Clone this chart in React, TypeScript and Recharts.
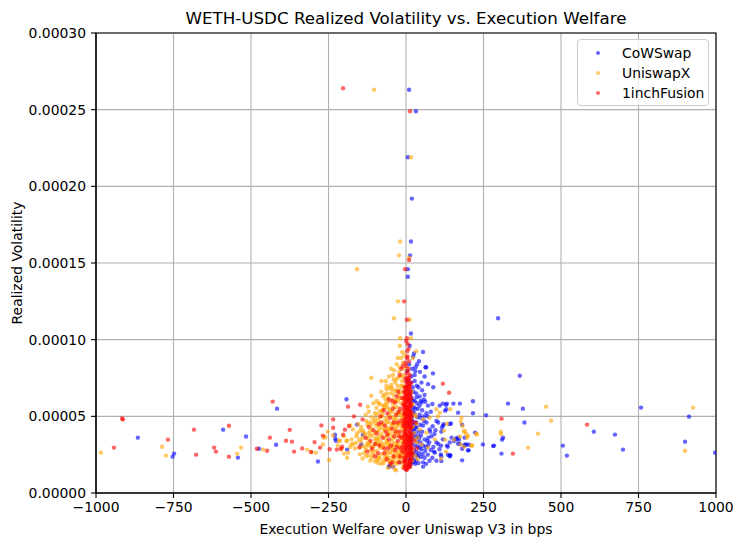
import React from 'react';
import { ScatterChart, Scatter, XAxis, YAxis, CartesianGrid, ReferenceArea } from 'recharts';

const xTicks = [-1000, -750, -500, -250, 0, 250, 500, 750, 1000];
const yTicks = [0, 0.00005, 0.0001, 0.00015, 0.0002, 0.00025, 0.0003];
const seriesNames = ['CoWSwap', 'UniswapX', '1inchFusion'];
const seriesColors = ['#0000ff', '#ffa500', '#ff0000'];

// [welfare in bps, realized volatility]
const cowswapPoints: [number, number][] = [
  [10, 26.3e-5], [32, 24.9e-5], [6, 21.9e-5], [19, 19.2e-5], [16, 16.4e-5], [13, 15.5e-5], [6, 14.6e-5], [6, 14.1e-5],
  [16, 10.4e-5], [12, 9.6e-5], [23, 8.9e-5], [55, 9.2e-5], [63, 8.2e-5], [31, 8.2e-5], [10, 8.4e-5], [3, 7.95e-5],
  [17, 7.6e-5], [6, 7.3e-5], [36, 8.4e-5], [65, 8.2e-5], [87, 7.8e-5], [88, 6.9e-5], [71, 7.1e-5], [50, 7.2e-5],
  [33, 6.5e-5], [44, 6.3e-5], [60, 6.4e-5], [28, 6.0e-5], [50, 5.9e-5], [71, 5.7e-5], [109, 5.7e-5], [130, 5.46e-5],
  [22, 5.35e-5], [44, 5.1e-5], [66, 5.2e-5], [98, 4.7e-5], [119, 4.4e-5], [141, 4.5e-5], [114, 4.0e-5], [33, 4.6e-5],
  [55, 4.4e-5], [76, 4.15e-5], [22, 4.15e-5], [38, 3.7e-5], [60, 3.5e-5], [82, 3.7e-5], [98, 3.3e-5], [119, 3.5e-5],
  [141, 3.3e-5], [163, 3.5e-5], [173, 3.2e-5], [189, 3.1e-5], [28, 3.1e-5], [50, 2.85e-5], [71, 3.1e-5], [93, 2.63e-5],
  [114, 2.4e-5], [135, 2.5e-5], [108, 2.85e-5], [17, 2.63e-5], [38, 2.4e-5], [60, 2.3e-5], [76, 2.1e-5], [55, 2.0e-5],
  [33, 2.1e-5], [17, 2.0e-5], [-53, 1.76e-5], [-20, 2.0e-5], [12, 1.76e-5], [141, 2.4e-5], [98, 2.1e-5], [55, 1.72e-5],
  [14, 3.0e-5], [20, 3.9e-5], [12, 4.8e-5], [25, 5.6e-5], [15, 6.6e-5], [20, 2.3e-5], [26, 2.8e-5], [13, 3.4e-5],
  [24, 4.4e-5], [18, 5.0e-5], [14, 5.9e-5], [22, 6.9e-5], [28, 7.7e-5], [30, 1.9e-5], [42, 2.6e-5], [47, 3.3e-5],
  [40, 4.0e-5], [46, 4.9e-5], [38, 5.5e-5], [35, 7.0e-5],
  [15, 1.9e-5], [25, 2.15e-5], [40, 1.95e-5], [48, 2.35e-5], [65, 1.9e-5], [70, 2.5e-5], [85, 2.3e-5], [20, 2.5e-5],
  [32, 2.7e-5], [44, 2.95e-5], [62, 2.75e-5], [80, 2.8e-5], [18, 3.2e-5], [36, 3.35e-5], [55, 3.1e-5], [68, 3.4e-5],
  [88, 3.0e-5], [104, 3.2e-5], [16, 3.7e-5], [28, 3.85e-5], [48, 3.75e-5], [72, 3.6e-5], [92, 3.85e-5], [14, 4.3e-5],
  [30, 4.25e-5], [46, 4.45e-5], [66, 4.6e-5], [86, 4.35e-5], [104, 4.6e-5], [20, 4.75e-5], [36, 4.95e-5], [58, 5.0e-5],
  [80, 5.3e-5], [16, 5.25e-5], [30, 5.5e-5], [44, 5.7e-5], [62, 5.95e-5], [18, 6.2e-5], [34, 6.25e-5], [52, 6.7e-5],
  [24, 6.6e-5], [40, 6.9e-5], [16, 7.2e-5], [28, 7.3e-5], [60, 7.6e-5], [45, 7.9e-5], [20, 8.1e-5],
  [11, 2.2e-5], [13, 2.8e-5], [12, 3.6e-5], [11, 4.5e-5], [13, 5.5e-5], [12, 6.4e-5], [24, 2.0e-5], [22, 3.5e-5],
  [26, 4.1e-5], [21, 4.6e-5], [27, 5.2e-5], [23, 6.0e-5], [30, 3.6e-5], [34, 4.3e-5], [33, 2.45e-5], [38, 3.05e-5],
  [42, 3.55e-5], [36, 5.85e-5], [52, 4.0e-5], [54, 2.55e-5], [58, 4.7e-5], [64, 3.0e-5], [75, 3.3e-5], [78, 4.0e-5],
  [95, 4.1e-5], [90, 2.7e-5], [52, 5.4e-5], [70, 5.0e-5], [85, 5.8e-5], [58, 6.1e-5], [48, 6.0e-5], [30, 7.95e-5],
  [42, 8.6e-5], [26, 9.1e-5],
  [297, 11.4e-5], [367, 7.65e-5], [329, 5.83e-5], [377, 5.5e-5], [382, 4.6e-5], [308, 2.57e-5], [281, 3.06e-5],
  [258, 5.07e-5], [216, 5.98e-5], [216, 5.2e-5], [248, 3.17e-5], [202, 2.78e-5], [181, 2.13e-5], [174, 5.83e-5],
  [153, 5.83e-5], [132, 5.83e-5], [119, 5.83e-5], [168, 5.24e-5], [145, 4.54e-5], [122, 4.48e-5], [147, 3.61e-5],
  [168, 3.61e-5], [189, 3.61e-5], [155, 3.39e-5], [195, 3.17e-5], [112, 2.52e-5], [143, 2.46e-5], [114, 2.09e-5],
  [313, 3.61e-5], [310, 3.48e-5], [284, 3.09e-5], [506, 3.09e-5], [519, 2.44e-5], [129, 5.76e-5], [126, 5.37e-5],
  [181, 4.46e-5], [116, 4.26e-5], [223, 3.94e-5], [161, 3.55e-5], [171, 3.48e-5], [168, 3.22e-5], [132, 3.09e-5],
  [135, 3.02e-5], [113, 3.09e-5], [190, 3.15e-5], [203, 3.15e-5], [181, 2.89e-5], [200, 2.78e-5], [142, 2.44e-5],
  [606, 4.0e-5], [674, 3.81e-5], [700, 2.83e-5], [758, 5.57e-5], [913, 4.98e-5], [900, 3.35e-5], [997, 2.63e-5],
  [-865, 3.61e-5], [-753, 2.37e-5], [-748, 2.57e-5], [-590, 4.13e-5], [-542, 2.31e-5], [-516, 3.68e-5], [-474, 2.89e-5],
  [-419, 3.15e-5], [-416, 5.5e-5], [-284, 2.05e-5], [-228, 3.55e-5], [-192, 6.11e-5], [-158, 4.46e-5], [-229, 3.8e-5],
  [-226, 3.41e-5], [-190, 2.83e-5], [-55, 1.72e-5], [-139, 3.8e-5], [-144, 3.17e-5], [-42, 1.72e-5],
];

const uniswapxPoints: [number, number][] = [
  [-103, 26.3e-5], [16, 21.9e-5], [-19, 16.4e-5], [-23, 15.5e-5], [10, 15.35e-5], [-158, 14.6e-5], [-26, 12.5e-5],
  [-39, 11.4e-5], [12, 11.3e-5], [-19, 10.1e-5], [16, 10.1e-5],
  [-20, 9.6e-5], [-12, 9.2e-5], [-26, 8.8e-5], [-10, 8.5e-5], [-20, 8.2e-5], [33, 9.25e-5], [22, 8.8e-5],
  [-112, 7.52e-5], [-79, 7.3e-5], [-42, 7.7e-5], [-31, 7.4e-5], [-15, 7.6e-5], [-4, 8.1e-5], [-63, 7.0e-5],
  [-47, 6.9e-5], [-36, 6.65e-5], [-20, 6.75e-5], [-10, 7.0e-5], [-112, 6.35e-5], [-63, 6.78e-5],
  [-74, 6.3e-5], [-58, 6.2e-5], [-42, 6.1e-5], [-26, 6.0e-5], [-10, 6.2e-5], [-123, 5.63e-5], [-85, 5.8e-5],
  [-69, 5.7e-5], [-53, 5.46e-5], [-36, 5.57e-5], [-20, 5.35e-5], [-6, 5.7e-5], [-95, 5.13e-5], [-79, 5.0e-5],
  [-63, 4.9e-5], [-47, 5.0e-5], [-31, 4.8e-5], [-15, 4.9e-5], [-4, 4.7e-5], [-128, 4.7e-5], [-112, 4.48e-5],
  [-95, 4.37e-5], [-79, 4.48e-5], [-63, 4.26e-5], [-47, 4.37e-5], [-31, 4.15e-5], [-15, 4.26e-5], [-171, 4.15e-5],
  [-149, 4.04e-5], [-133, 3.83e-5], [-117, 3.72e-5], [-101, 3.94e-5], [-85, 3.72e-5], [-69, 3.61e-5], [-53, 3.83e-5],
  [-36, 3.61e-5], [-20, 3.72e-5], [-4, 3.5e-5], [-192, 3.39e-5], [-176, 3.17e-5], [-160, 3.28e-5], [-139, 3.06e-5],
  [-123, 3.17e-5], [-107, 2.96e-5], [-91, 3.17e-5], [-74, 2.96e-5], [-58, 3.06e-5], [-42, 2.85e-5], [-26, 3.06e-5],
  [-10, 2.85e-5], [-208, 2.85e-5], [-187, 2.63e-5], [-149, 2.52e-5], [-128, 2.41e-5], [-107, 2.52e-5], [-85, 2.3e-5],
  [-63, 2.41e-5], [-42, 2.2e-5], [-20, 2.3e-5], [-4, 2.1e-5], [-74, 2.1e-5], [-53, 1.98e-5], [-31, 1.87e-5],
  [-15, 1.98e-5], [-36, 1.54e-5], [-32, 1.48e-5],
  [17, 5.24e-5], [33, 5.0e-5], [55, 4.8e-5], [76, 4.9e-5], [98, 5.46e-5], [109, 5.24e-5], [44, 4.15e-5], [66, 3.94e-5],
  [28, 3.5e-5], [50, 3.17e-5], [71, 2.96e-5], [93, 3.5e-5], [17, 2.4e-5], [38, 2.2e-5], [103, 5.0e-5],
  [-55, 4.6e-5], [-40, 4.55e-5], [-25, 4.5e-5], [-70, 4.1e-5], [-88, 4.1e-5], [-45, 3.4e-5], [-60, 3.3e-5],
  [-30, 3.3e-5], [-15, 3.2e-5], [-80, 3.3e-5], [-100, 3.5e-5], [-115, 3.3e-5], [-50, 2.6e-5], [-35, 2.6e-5],
  [-65, 2.7e-5], [-95, 2.75e-5], [-25, 2.5e-5], [-12, 2.45e-5], [-55, 2.3e-5], [-115, 2.1e-5], [-140, 2.25e-5],
  [-90, 1.95e-5], [-30, 5.2e-5], [-45, 5.3e-5], [-60, 5.6e-5], [-12, 5.1e-5], [-25, 6.4e-5], [-50, 6.5e-5],
  [-35, 7.2e-5], [-8, 6.6e-5], [-55, 4.0e-5], [-40, 3.95e-5], [-25, 3.95e-5], [-10, 4.0e-5], [-120, 3.9e-5],
  [-160, 3.7e-5], [-150, 3.5e-5], [-180, 3.0e-5], [-165, 2.9e-5], [-130, 2.8e-5], [-85, 5.3e-5], [-100, 4.85e-5],
  [-100, 2.05e-5], [-80, 1.9e-5], [-65, 2.15e-5], [-45, 1.75e-5], [-28, 2.05e-5], [-10, 1.7e-5], [5, 1.9e-5],
  [20, 2.1e-5], [-58, 1.65e-5], [-18, 2.25e-5], [-88, 2.2e-5], [-38, 2.0e-5],
  [-135, 2.6e-5], [-120, 2.45e-5], [-105, 2.7e-5], [-92, 2.4e-5], [-78, 2.55e-5], [-68, 2.35e-5], [-45, 2.75e-5],
  [-40, 2.35e-5], [-28, 2.7e-5], [-18, 2.6e-5], [-6, 2.5e-5], [8, 2.7e-5], [22, 2.8e-5], [30, 2.4e-5], [-58, 2.65e-5],
  [-115, 2.75e-5], [-170, 3.2e-5], [-145, 3.35e-5], [-130, 3.0e-5], [-118, 3.1e-5], [-98, 3.25e-5], [-84, 2.95e-5],
  [-70, 3.2e-5], [-62, 3.4e-5], [-50, 2.95e-5], [-38, 3.2e-5], [-22, 2.95e-5], [-8, 3.1e-5], [5, 3.35e-5],
  [18, 3.0e-5], [35, 3.3e-5], [-92, 3.45e-5], [-150, 2.95e-5],
  [-158, 3.9e-5], [-140, 3.6e-5], [-125, 3.55e-5], [-108, 3.75e-5], [-95, 3.6e-5], [-78, 3.85e-5], [-62, 3.75e-5],
  [-45, 3.65e-5], [-30, 3.85e-5], [-15, 3.55e-5], [-2, 3.8e-5], [12, 3.7e-5], [25, 3.9e-5], [38, 3.6e-5],
  [-135, 3.95e-5], [-88, 3.5e-5], [-145, 4.3e-5], [-125, 4.45e-5], [-110, 4.2e-5], [-98, 4.55e-5], [-85, 4.3e-5],
  [-72, 4.5e-5], [-58, 4.2e-5], [-42, 4.5e-5], [-35, 4.25e-5], [-20, 4.55e-5], [-6, 4.2e-5], [8, 4.45e-5],
  [22, 4.3e-5], [35, 4.5e-5], [-118, 4.6e-5],
  [-112, 4.95e-5], [-90, 4.75e-5], [-75, 5.15e-5], [-68, 4.75e-5], [-55, 5.05e-5], [-40, 4.8e-5], [-25, 5.1e-5],
  [-10, 4.8e-5], [2, 5.15e-5], [15, 4.85e-5], [28, 5.1e-5], [-100, 5.2e-5], [-95, 5.55e-5], [-78, 5.4e-5],
  [-65, 5.8e-5], [-50, 5.35e-5], [-42, 5.75e-5], [-28, 5.6e-5], [-15, 5.85e-5], [-2, 5.4e-5], [10, 5.6e-5],
  [22, 5.8e-5], [-88, 5.85e-5], [-70, 5.5e-5], [-80, 6.6e-5], [-66, 6.1e-5], [-55, 6.85e-5], [-40, 6.4e-5],
  [-32, 6.05e-5], [-18, 6.5e-5], [-5, 6.9e-5], [8, 6.3e-5], [18, 6.6e-5], [-48, 7.05e-5], [-28, 7.0e-5],
  [-12, 7.3e-5], [-70, 6.4e-5], [-55, 7.6e-5], [-38, 8.0e-5], [-22, 7.9e-5], [-8, 7.7e-5], [-30, 8.4e-5],
  [-15, 8.8e-5], [-5, 9.0e-5], [-48, 8.1e-5],
  [-110, 2.3e-5], [-95, 2.15e-5], [-72, 1.95e-5], [-52, 2.1e-5], [-32, 2.35e-5], [-15, 2.7e-5], [-3, 2.3e-5],
  [-125, 3.25e-5], [-105, 3.05e-5], [-88, 3.2e-5], [-75, 3.05e-5], [-55, 3.2e-5], [-42, 3.05e-5], [-28, 3.15e-5],
  [-12, 3.4e-5], [-140, 4.1e-5], [-115, 4.05e-5], [-92, 4.0e-5], [-75, 4.2e-5], [-50, 4.15e-5], [-28, 4.4e-5],
  [-12, 4.5e-5], [-105, 4.7e-5], [-85, 4.95e-5], [-60, 4.65e-5], [-35, 4.95e-5], [-20, 5.2e-5], [-5, 5.05e-5],
  [-75, 5.7e-5], [-58, 5.9e-5], [-35, 5.95e-5], [-22, 6.2e-5], [-8, 6.1e-5], [-62, 6.5e-5], [-45, 6.75e-5],
  [-30, 6.7e-5], [-16, 7.0e-5], [-40, 7.4e-5], [-25, 7.55e-5], [-65, 7.3e-5], [-95, 6.0e-5], [-105, 5.85e-5],
  [-130, 5.1e-5], [-120, 5.3e-5], [-155, 4.5e-5], [-180, 4.4e-5], [-200, 3.7e-5], [-175, 3.5e-5], [-220, 3.1e-5],
  [-190, 2.3e-5],
  [426, 3.87e-5], [394, 2.96e-5], [306, 4.0e-5], [306, 3.85e-5], [226, 3.87e-5], [229, 3.81e-5], [212, 3.1e-5],
  [143, 5.46e-5], [179, 4.91e-5], [182, 4.37e-5], [175, 3.17e-5], [452, 5.63e-5], [468, 4.72e-5], [177, 4.65e-5],
  [132, 4.52e-5], [123, 4.07e-5], [187, 4.0e-5], [194, 3.87e-5], [197, 3.61e-5], [174, 3.68e-5], [155, 3.48e-5],
  [126, 3.48e-5], [129, 2.7e-5], [187, 3.02e-5], [213, 3.09e-5], [113, 2.24e-5], [926, 5.57e-5], [900, 2.76e-5],
  [200, 3.72e-5], [189, 4.04e-5],
  [-984, 2.63e-5], [-787, 3.02e-5], [-774, 2.44e-5], [-545, 2.57e-5], [-532, 2.96e-5], [-461, 2.83e-5],
  [-319, 2.83e-5], [-306, 2.67e-5], [-291, 2.63e-5], [-268, 3.17e-5], [-265, 3.61e-5], [-260, 3.65e-5],
  [-248, 2.15e-5], [-235, 3.76e-5], [-252, 4.0e-5], [-216, 3.41e-5], [-213, 3.41e-5], [-190, 3.41e-5], [-200, 2.57e-5],
];

const fusionPoints: [number, number][] = [
  [-203, 26.4e-5], [13, 24.9e-5], [-3, 14.6e-5], [10, 15.2e-5], [-6, 12.5e-5], [3, 11.3e-5], [3, 10.1e-5],
  [6, 9.7e-5], [4, 9.25e-5], [3, 8.8e-5], [10, 8.6e-5], [1, 8.3e-5], [6, 7.95e-5], [12, 7.7e-5], [3, 7.5e-5],
  [10, 7.3e-5], [17, 7.2e-5], [-15, 8.1e-5], [-10, 8.3e-5], [-20, 7.7e-5],
  [119, 7.13e-5], [139, 6.54e-5], [345, 2.57e-5], [308, 4.85e-5], [584, 4.46e-5],
  [-942, 2.96e-5], [-913, 4.8e-5], [-916, 4.86e-5], [-768, 3.48e-5], [-684, 4.13e-5], [-677, 2.5e-5], [-619, 2.96e-5],
  [-613, 2.7e-5], [-571, 4.39e-5], [-571, 2.37e-5], [-481, 2.89e-5], [-448, 2.76e-5], [-439, 3.61e-5], [-430, 5.96e-5],
  [-387, 3.41e-5], [-375, 4.12e-5], [-368, 3.35e-5], [-361, 2.7e-5], [-335, 2.91e-5], [-306, 2.67e-5], [-295, 3.32e-5],
  [-277, 2.96e-5], [-273, 4.41e-5], [-246, 2.85e-5], [-235, 4.8e-5], [-235, 4.26e-5], [-187, 5.63e-5], [-148, 5.76e-5],
  [-168, 5.0e-5], [-184, 4.37e-5], [-268, 3.74e-5], [-223, 2.83e-5], [-210, 2.89e-5], [-203, 3.8e-5], [-197, 4.13e-5],
  [-206, 3.02e-5],
  [-130, 3.6e-5], [-110, 2.9e-5], [-95, 3.9e-5], [-80, 4.6e-5], [-70, 2.6e-5], [-60, 5.2e-5], [-55, 3.5e-5],
  [-45, 4.2e-5], [-40, 2.4e-5], [-35, 5.9e-5], [-30, 3.0e-5], [-28, 4.6e-5], [-22, 2.0e-5], [-18, 5.5e-5],
  [-15, 3.6e-5], [-12, 2.7e-5], [-10, 4.4e-5], [-25, 6.6e-5], [-45, 6.0e-5], [-65, 4.0e-5], [-85, 3.1e-5],
  [-100, 2.4e-5], [-120, 4.3e-5], [-150, 3.0e-5], [-140, 4.8e-5], [-50, 1.9e-5], [-38, 3.7e-5], [-20, 4.0e-5],
  [-32, 5.1e-5], [-58, 2.9e-5], [25, 3.4e-5], [30, 4.6e-5], [22, 2.6e-5], [35, 2.9e-5],
  [-115, 3.4e-5], [-105, 4.1e-5], [-90, 2.6e-5], [-82, 5.0e-5], [-75, 3.6e-5], [-68, 4.4e-5], [-62, 2.2e-5],
  [-52, 4.9e-5], [-48, 3.1e-5], [-42, 5.5e-5], [-35, 2.8e-5], [-33, 4.0e-5], [-26, 3.4e-5], [-24, 5.3e-5],
  [-20, 2.4e-5], [-17, 4.7e-5], [-14, 6.2e-5], [-12, 3.0e-5], [-9, 5.8e-5], [-30, 6.3e-5], [-55, 6.1e-5],
  [-72, 5.4e-5], [-88, 4.5e-5], [-100, 3.2e-5], [-125, 2.7e-5], [-60, 3.8e-5], [-40, 4.6e-5], [-22, 3.7e-5],
  [-18, 2.9e-5], [-45, 2.0e-5], [-70, 2.9e-5],
  [-6, 1.62e-5], [2, 1.5e-5], [9, 1.71e-5], [15, 1.86e-5], [-3, 1.95e-5], [5, 2.04e-5], [12, 2.12e-5], [18, 2.25e-5],
  [-7, 2.31e-5], [1, 2.38e-5], [8, 2.47e-5], [14, 2.55e-5], [-4, 2.62e-5], [4, 2.7e-5], [11, 2.77e-5], [17, 2.86e-5],
  [-1, 2.93e-5], [7, 3.0e-5], [13, 3.08e-5], [-6, 3.14e-5], [2, 3.22e-5], [9, 3.3e-5], [16, 3.37e-5], [-3, 3.45e-5],
  [5, 3.52e-5], [12, 3.6e-5], [19, 3.66e-5], [-8, 3.74e-5], [0, 3.81e-5], [8, 3.9e-5], [14, 3.97e-5], [-5, 4.05e-5],
  [3, 4.12e-5], [10, 4.2e-5], [17, 4.28e-5], [-2, 4.35e-5], [6, 4.43e-5], [13, 4.5e-5], [-7, 4.58e-5], [1, 4.65e-5],
  [9, 4.73e-5], [15, 4.8e-5], [-4, 4.88e-5], [4, 4.95e-5], [11, 5.03e-5], [18, 5.1e-5], [-1, 5.18e-5], [7, 5.25e-5],
  [13, 5.33e-5], [-6, 5.4e-5], [2, 5.48e-5], [9, 5.55e-5], [16, 5.63e-5], [-3, 5.7e-5], [5, 5.78e-5], [12, 5.86e-5],
  [0, 5.93e-5], [8, 6.01e-5], [14, 6.09e-5], [-5, 6.17e-5], [3, 6.25e-5], [10, 6.33e-5], [-2, 6.42e-5], [6, 6.5e-5],
  [12, 6.6e-5], [1, 6.7e-5], [8, 6.8e-5], [-4, 6.9e-5], [4, 7.0e-5], [10, 7.1e-5], [0, 7.25e-5], [7, 7.4e-5],
  [0, 1.55e-5], [6, 1.8e-5], [12, 2.0e-5], [-2, 2.2e-5], [16, 2.4e-5], [3, 2.5e-5], [10, 2.6e-5], [-5, 2.8e-5],
  [19, 2.95e-5], [4, 3.1e-5], [11, 3.25e-5], [-1, 3.35e-5], [15, 3.5e-5], [6, 3.65e-5], [-4, 3.85e-5], [11, 4.0e-5],
  [2, 4.25e-5], [16, 4.4e-5], [-3, 4.55e-5], [8, 4.6e-5], [14, 4.7e-5], [0, 4.85e-5], [6, 5.05e-5], [-7, 5.15e-5],
  [15, 5.3e-5], [3, 5.45e-5], [10, 5.65e-5], [-2, 5.85e-5], [7, 6.05e-5], [17, 6.2e-5], [2, 6.4e-5], [-6, 6.6e-5],
  [14, 6.75e-5], [3, 6.95e-5],
  [5, 1.6e-5], [-1, 1.75e-5], [13, 1.7e-5], [8, 2.3e-5], [-4, 2.1e-5], [18, 2.6e-5], [14, 2.9e-5], [0, 3.0e-5],
  [-7, 3.3e-5], [8, 3.45e-5], [18, 3.8e-5], [4, 3.7e-5], [-2, 4.0e-5], [12, 4.35e-5], [5, 4.55e-5], [-5, 4.75e-5],
  [18, 4.95e-5], [10, 4.9e-5], [-3, 5.25e-5], [12, 5.2e-5], [5, 5.6e-5], [-6, 5.7e-5], [15, 5.9e-5], [3, 6.1e-5],
  [-3, 6.3e-5], [11, 6.45e-5], [6, 6.65e-5], [-1, 6.85e-5], [13, 7.0e-5], [5, 7.2e-5], [-3, 7.45e-5], [10, 7.55e-5],
  [2, 7.8e-5], [8, 8.1e-5], [-2, 8.5e-5], [5, 8.9e-5], [8, 9.4e-5], [1, 9.9e-5],
  [-4, 1.8e-5], [10, 1.9e-5], [16, 2.1e-5], [-6, 2.05e-5], [3, 2.85e-5], [17, 3.2e-5], [-6, 3.6e-5], [9, 3.7e-5],
  [15, 4.2e-5], [-5, 4.3e-5], [18, 4.6e-5], [0, 5.1e-5], [9, 5.35e-5], [-5, 5.55e-5], [17, 5.75e-5], [-4, 6.05e-5],
  [9, 6.15e-5], [15, 6.45e-5], [-2, 6.6e-5], [9, 6.95e-5],
];

const seriesPoints = [cowswapPoints, uniswapxPoints, fusionPoints];

const FONT = '"DejaVu Sans", sans-serif';
const fmtX = (v: number) => (v < 0 ? '\u2212' + Math.abs(v) : String(v));

const makeDot = (color: string) => (props: any) => (
  <circle cx={props.cx} cy={props.cy} r={2.2} fill={color} fillOpacity={0.6} />
);

export default function App() {
  return (
    <div style={{ position: 'relative', width: 735, height: 539, fontFamily: FONT, background: '#fff' }}>
      <div style={{ position: 'absolute', left: 88, width: 620, top: 0, lineHeight: '20px', fontSize: 16.7, textAlign: 'center', color: '#000' }}>
        WETH-USDC Realized Volatility vs. Execution Welfare
      </div>
      <ScatterChart width={735} height={539} margin={{ top: 25, right: 27, bottom: 0, left: 0 }}>
        <XAxis
          type="number"
          dataKey="x"
          domain={[-1000, 1000]}
          ticks={xTicks}
          tickFormatter={fmtX}
          allowDataOverflow
          height={54}
          tickSize={5}
          tickMargin={4}
          axisLine={{ stroke: '#000', strokeWidth: 1.1 }}
          tickLine={{ stroke: '#000', strokeWidth: 1.1 }}
          tick={{ fill: '#000', fontSize: 13.9, fontFamily: FONT }}
        />
        <YAxis
          type="number"
          dataKey="y"
          domain={[0, 0.0003]}
          ticks={yTicks}
          tickFormatter={(v: number) => v.toFixed(5)}
          allowDataOverflow
          width={88}
          tickSize={5}
          tickMargin={5}
          axisLine={{ stroke: '#000', strokeWidth: 1.1 }}
          tickLine={{ stroke: '#000', strokeWidth: 1.1 }}
          tick={{ fill: '#000', fontSize: 13.9, fontFamily: FONT }}
        />
        {seriesNames.map((name, i) => (
          <Scatter
            key={name}
            name={name}
            data={seriesPoints[i].map(([x, y]) => ({ x, y }))}
            fill={seriesColors[i]}
            shape={makeDot(seriesColors[i])}
            isAnimationActive={false}
          />
        ))}
        <CartesianGrid stroke="#b0b0b0" strokeWidth={1.1} horizontalValues={yTicks} verticalValues={xTicks} />
        <ReferenceArea x1={-1000} x2={1000} y1={0} y2={0.0003} fill="none" stroke="#000" strokeWidth={1.1} />
      </ScatterChart>
      <div style={{ position: 'absolute', left: 398, top: 521, transform: 'translate(-50%, -50%)', fontSize: 13.9, whiteSpace: 'nowrap' }}>
        Execution Welfare over Uniswap V3 in bps
      </div>
      <div style={{ position: 'absolute', left: 9, top: 255, transform: 'translate(-50%, -50%) rotate(-90deg)', fontSize: 13.9, whiteSpace: 'nowrap' }}>
        Realized Volatility
      </div>
      <div
        style={{
          position: 'absolute', left: 569, top: 31, width: 132, height: 67, boxSizing: 'border-box',
          border: '1px solid #cccccc', borderRadius: 4, background: 'rgba(255,255,255,0.8)', paddingTop: 3,
        }}
      >
        {seriesNames.map((name, i) => (
          <div key={name} style={{ position: 'relative', height: 20, lineHeight: '20px', fontSize: 13.9 }}>
            <span
              style={{
                position: 'absolute', left: 18, top: 8, width: 4, height: 4, borderRadius: 2,
                background: seriesColors[i], opacity: 0.6,
              }}
            />
            <span style={{ position: 'absolute', left: 44 }}>{name}</span>
          </div>
        ))}
      </div>
    </div>
  );
}
